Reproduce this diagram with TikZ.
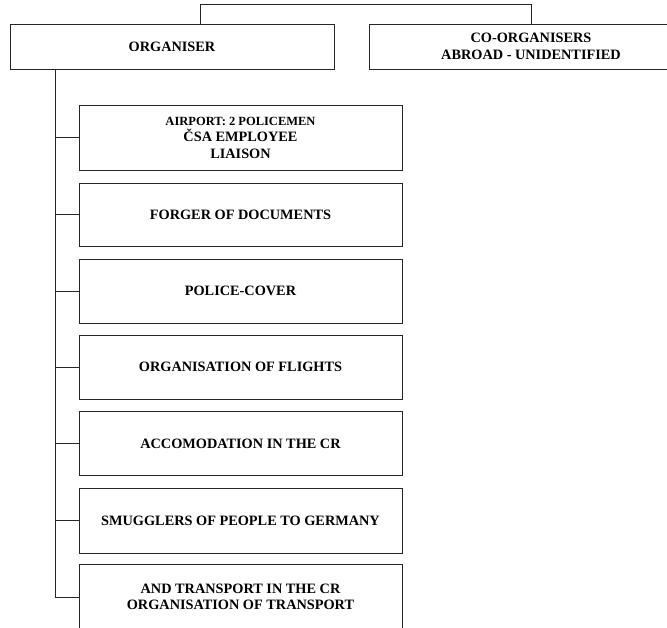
\documentclass[tikz,border=0pt]{standalone}
\usepackage{fontspec}
\setmainfont{Liberation Serif}
\usepackage{tikz}

\begin{document}
\begin{tikzpicture}[x=1pt,y=-1pt,line width=0.8pt,
  every node/.style={draw,black!85,text=black,font=\bfseries\fontsize{14.3}{16.5}\selectfont,align=center,inner sep=0pt},
  child/.style={minimum width=323pt,minimum height=64pt}]
\useasboundingbox (0,0) rectangle (667,628);
\clip (0,0) rectangle (667,628);
\node[minimum width=324pt,minimum height=45pt] (org) at (172,46.5) {ORGANISER};
\node[minimum width=324pt,minimum height=45pt] (coorg) at (531,46.5) {CO-ORGANISERS\\ABROAD - UNIDENTIFIED};
\node[child,minimum height=65pt] (c1) at (240.5,137.5) {{\fontsize{12.5}{16.5}\selectfont AIRPORT: 2 POLICEMEN}\\ČSA EMPLOYEE\\LIAISON};
\node[child,minimum height=63pt] (c2) at (240.5,214.5) {FORGER OF DOCUMENTS};
\node[child] (c3) at (240.5,291) {POLICE-COVER};
\node[child] (c4) at (240.5,367) {ORGANISATION OF FLIGHTS};
\node[child] (c5) at (240.5,443.5) {ACCOMODATION IN THE CR};
\node[child,minimum height=65pt] (c6) at (240.5,520.5) {SMUGGLERS OF PEOPLE TO GERMANY};
\node[child,minimum height=66pt] (c7) at (240.5,597) {AND TRANSPORT IN THE CR\\ORGANISATION OF TRANSPORT};
\coordinate (top) at (365,4.5);

\draw[black!85] ([xshift=28pt]org.north) |- (top) -| (coorg.north);
\draw[black!85] ([xshift=-117pt]org.south) |- (c7.west);
\foreach \i in {1,...,6}
  \draw[black!85] (c\i.west) -- ++(-24,0);
\end{tikzpicture}
\end{document}
